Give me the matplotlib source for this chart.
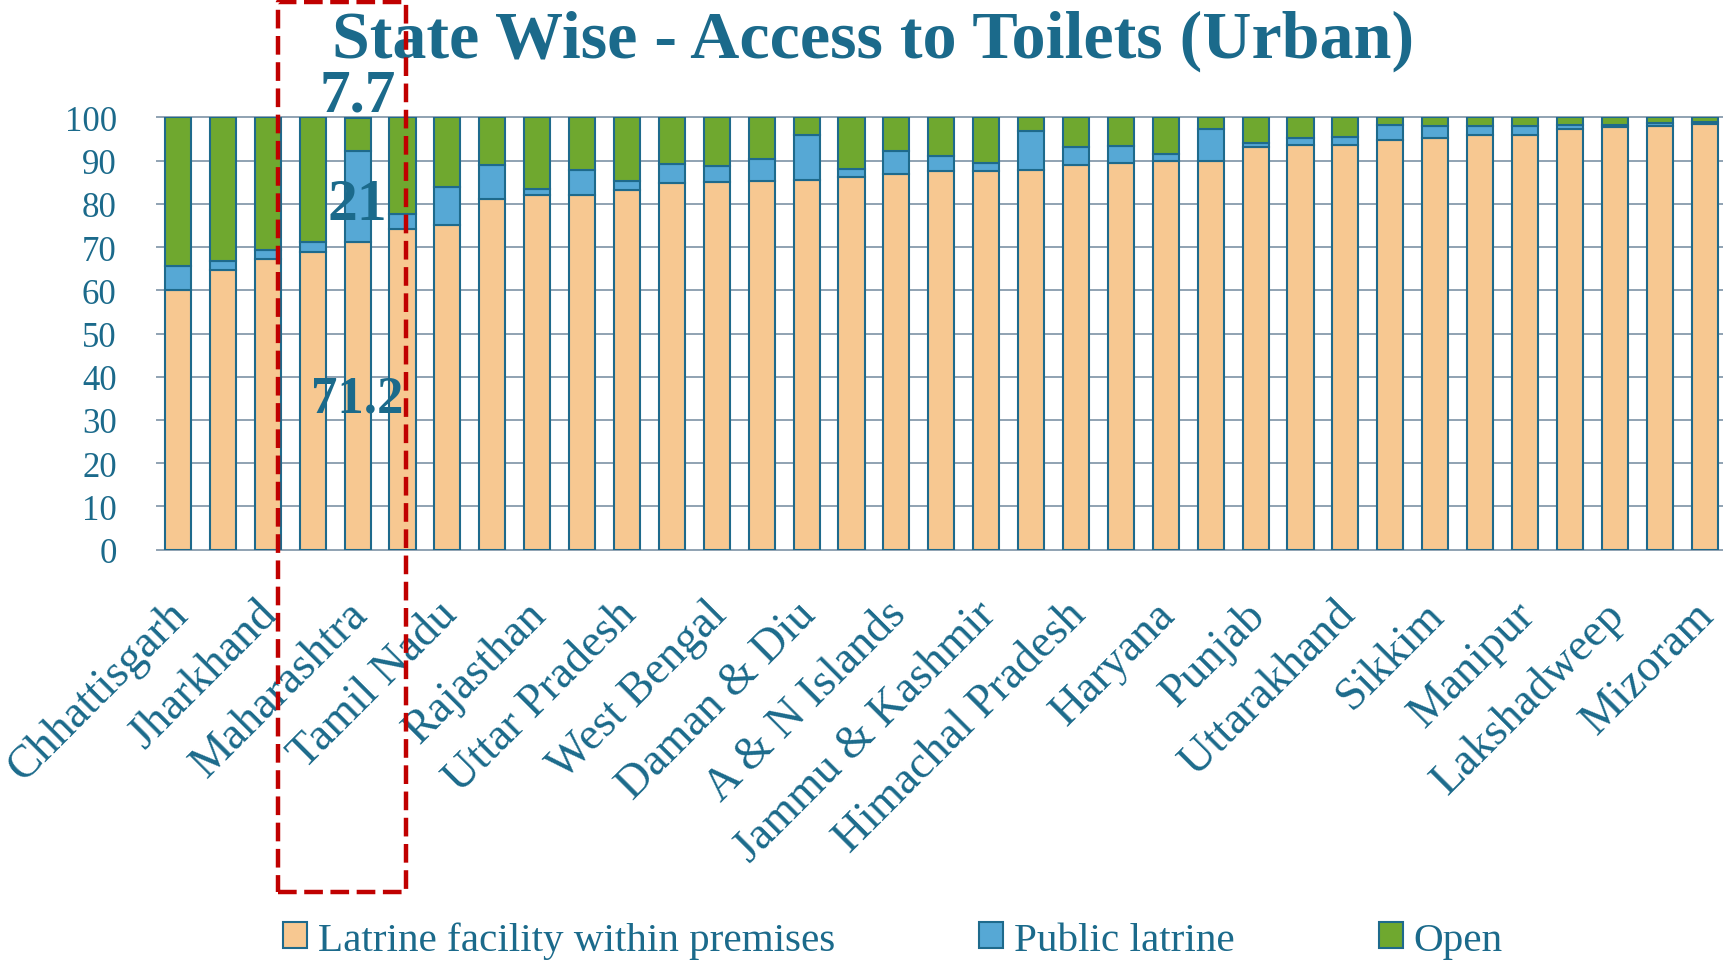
import matplotlib
matplotlib.use("Agg")
import matplotlib.pyplot as plt
import matplotlib.transforms as mtransforms
from matplotlib.patches import Rectangle
import numpy as np

# ---------------- data ----------------
states = ["Chhattisgarh", "", "Jharkhand", "", "Maharashtra", "", "Tamil Nadu", "",
          "Rajasthan", "", "Uttar Pradesh", "", "West Bengal", "", "Daman & Diu", "",
          "A & N Islands", "", "Jammu & Kashmir", "", "Himachal Pradesh", "", "Haryana", "",
          "Punjab", "", "Uttarakhand", "", "Sikkim", "", "Manipur", "", "Lakshadweep", "",
          "Mizoram"]
within = [60.1, 64.7, 67.2, 68.8, 71.2, 74.2, 75.2, 81.1, 82.0, 82.1, 83.1, 84.9,
          85.1, 85.2, 85.4, 86.2, 87.0, 87.5, 87.5, 87.7, 89.0, 89.4, 89.9, 89.9,
          93.2, 93.7, 93.7, 94.8, 95.2, 95.8, 95.8, 97.3, 97.7, 98.0, 98.4]
public = [5.4, 2.1, 2.0, 2.4, 21.0, 3.4, 8.6, 7.8, 1.4, 5.8, 2.1, 4.3,
          3.7, 5.2, 10.5, 1.9, 5.2, 3.6, 1.9, 9.2, 4.1, 4.0, 1.5, 7.3,
          0.8, 1.4, 1.8, 3.4, 2.7, 2.1, 2.1, 0.9, 0.5, 0.7, 0.6]
open_ = [34.5, 33.2, 30.8, 28.8, 7.7, 22.4, 16.2, 11.1, 16.6, 12.1, 14.8, 10.8,
         11.2, 9.6, 4.1, 11.9, 7.8, 8.9, 10.6, 3.1, 6.9, 6.6, 8.6, 2.8,
         6.0, 4.9, 4.5, 1.8, 2.1, 2.1, 2.1, 1.8, 1.8, 1.3, 1.0]
series_names = ["Latrine facility within premises", "Public latrine", "Open"]
highlight = "Maharashtra"
yticks = list(range(0, 101, 10))

# ---------------- style ----------------
FONT = "Liberation Serif"
TEXT = "#1B6A8B"
EDGE = "#1E6A8C"
C_WITHIN = "#F7C891"
C_PUBLIC = "#56A8D5"
C_OPEN = "#6FA82F"
GRID = "#8FA2B2"

plt.rcParams["font.family"] = FONT

W, H = 1723, 962
fig = plt.figure(figsize=(W / 100, H / 100), dpi=100)
ax = fig.add_axes([157 / W, 1 - 550.7 / H, 1 - 157 / W, (550.7 - 118.3) / H])

x = np.arange(len(states))
within_a = np.array(within)
public_a = np.array(public)
open_a = np.array(open_)
bw = 0.58
b1 = ax.bar(x, within_a, bw, color=C_WITHIN, edgecolor=EDGE, linewidth=1.5,
            label=series_names[0], zorder=3)
b2 = ax.bar(x, public_a, bw, bottom=within_a, color=C_PUBLIC, edgecolor=EDGE,
            linewidth=1.5, label=series_names[1], zorder=3)
b3 = ax.bar(x, open_a, bw, bottom=within_a + public_a, color=C_OPEN, edgecolor=EDGE,
            linewidth=1.5, label=series_names[2], zorder=3)

ax.set_xlim(-0.468, 34.41)
ax.set_ylim(0, 100)
ax.set_yticks(yticks)
ax.set_yticklabels([str(v) for v in yticks], fontsize=25, color=TEXT)
ax.yaxis.grid(True, color=GRID, linewidth=1.4, zorder=0)
for gl in ax.yaxis.get_gridlines():
    gl.set_clip_on(False)
ax.set_axisbelow(True)
for s in ax.spines.values():
    s.set_visible(False)
ax.tick_params(axis="y", length=0, pad=29)
ax.tick_params(axis="x", length=0, pad=31)

ax.set_xticks(x)
ax.set_xticklabels(states, rotation=45, ha="right", va="top",
                   rotation_mode="anchor", fontsize=33, color=TEXT)
offset = mtransforms.ScaledTranslation(-12 / 100, 0, fig.dpi_scale_trans)
for lab in ax.get_xticklabels():
    lab.set_transform(lab.get_transform() + offset)

# highlighted annotations
hi = states.index(highlight)
ax.text(hi, within[hi] / 2 - 3.6, f"{within[hi]:g}", ha="center", va="baseline",
        fontsize=38, fontweight="bold", color=TEXT, zorder=5)
ax.text(hi, within[hi] + public[hi] / 2 - 5.2, f"{public[hi]:g}", ha="center",
        va="baseline", fontsize=43, fontweight="bold", color=TEXT, zorder=5)
ax.text(hi, 101.5, f"{open_[hi]:g}", ha="center", va="baseline", fontsize=44,
        fontweight="bold", color=TEXT, zorder=5, clip_on=False)

# title
fig.text(873 / W, 1 - 58 / H, "State Wise - Access to Toilets (Urban)", ha="center",
         va="baseline", fontsize=49, fontweight="bold", color=TEXT)

# legend
leg = fig.legend(handles=[b1, b2, b3], labels=series_names, loc="center",
                 bbox_to_anchor=(893 / W, 1 - 941 / H), ncol=3, frameon=False,
                 fontsize=29.6, handlelength=0.58, handleheight=0.58,
                 handletextpad=0.27, columnspacing=3.5, borderaxespad=0)
for t in leg.get_texts():
    t.set_color(TEXT)

# red dashed highlight box
rect = Rectangle((278 / W, 1 - 893 / H), 128 / W, 890 / H, transform=fig.transFigure,
                 fill=False, edgecolor="#C00000", linewidth=3.2,
                 linestyle=(0, (4.2, 1.7)), zorder=10, joinstyle="round")
fig.patches.append(rect)

fig.savefig("out.png", dpi=100)
